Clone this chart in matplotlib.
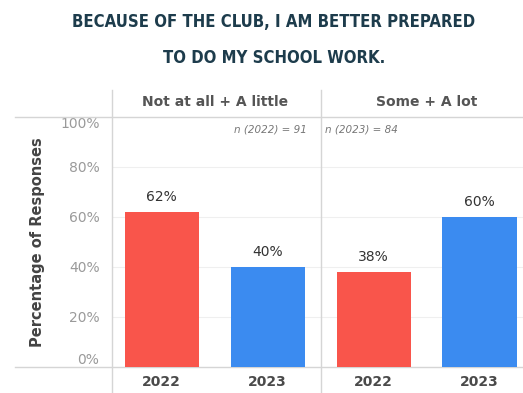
import matplotlib.pyplot as plt
import numpy as np

years = ['2022', '2023', '2022', '2023']
values = [62, 40, 38, 60]
groups = ['Not at all + A little', 'Some + A lot']
n_labels = ['n (2022) = 91', 'n (2023) = 84']
yticks = [0, 20, 40, 60, 80, 100]

red = '#f9554b'
blue = '#3b8bf0'
colors = [red, blue, red, blue]

fig = plt.figure(figsize=(5.23, 3.93), dpi=100)
ax = fig.add_axes([0.2141, 0.0662, 0.7859, 0.6361])

x = np.arange(len(values))
ax.bar(x, values, width=0.7, color=colors, zorder=3)
ax.set_xlim(-0.47, 3.41)
ax.set_ylim(0, 100)

for s in ax.spines.values():
    s.set_visible(False)

# grid
for t in yticks[1:-1]:
    ax.axhline(t, color='#efefef', lw=0.8, zorder=1)
# header + baseline lines reaching out to the left
ax.axhline(100, xmin=-0.236, xmax=1, color='#d5d5d5', lw=1, clip_on=False, zorder=2)
ax.axhline(0, xmin=-0.236, xmax=1, color='#d5d5d5', lw=1, clip_on=False, zorder=2)
# vertical dividers
for xv in [-0.47, 1.5]:
    ax.axvline(xv, ymin=-0.104, ymax=1.108, color='#d5d5d5', lw=1, clip_on=False, zorder=2)

ax.set_yticks(yticks)
ax.set_yticklabels([f'{t}%' for t in yticks], color='#9a9a9a', fontsize=10)
ax.tick_params(axis='y', length=0, pad=9)
labs = ax.get_yticklabels()
labs[0].set_va('bottom')
labs[-1].set_va('top')

ax.set_xticks(x)
ax.set_xticklabels(years, fontsize=10, fontweight='bold', color='#4a4a4a')
ax.tick_params(axis='x', length=0, pad=6)

ax.set_ylabel('Percentage of Responses', fontsize=10.5, fontweight='bold', color='#444444', labelpad=11)

for xi, v in zip(x, values):
    ax.annotate(f'{v}%', (xi, v), xytext=(0, 6), textcoords='offset points',
                ha='center', va='bottom', fontsize=10, color='#333333')

for gi, g in enumerate(groups):
    ax.text(gi * 2 + 0.5, 106, g, ha='center', va='center', fontsize=10,
            fontweight='bold', color='#555555', clip_on=False)

ax.annotate(n_labels[0], (1.5, 95), xytext=(-10, 0), textcoords='offset points',
            ha='right', va='center', fontsize=7.5, style='italic', color='#777777')
ax.annotate(n_labels[1], (1.5, 95), xytext=(3, 0), textcoords='offset points',
            ha='left', va='center', fontsize=7.5, style='italic', color='#777777')

title_font = dict(fontsize=12, fontweight='bold', color='#1d3c4c', fontstretch='condensed',
                  family=['DejaVu Sans'], ha='center', va='center')
fig.text(0.524, 0.944, 'BECAUSE OF THE CLUB, I AM BETTER PREPARED', **title_font)
fig.text(0.524, 0.852, 'TO DO MY SCHOOL WORK.', **title_font)

fig.savefig('out.png', dpi=100)
